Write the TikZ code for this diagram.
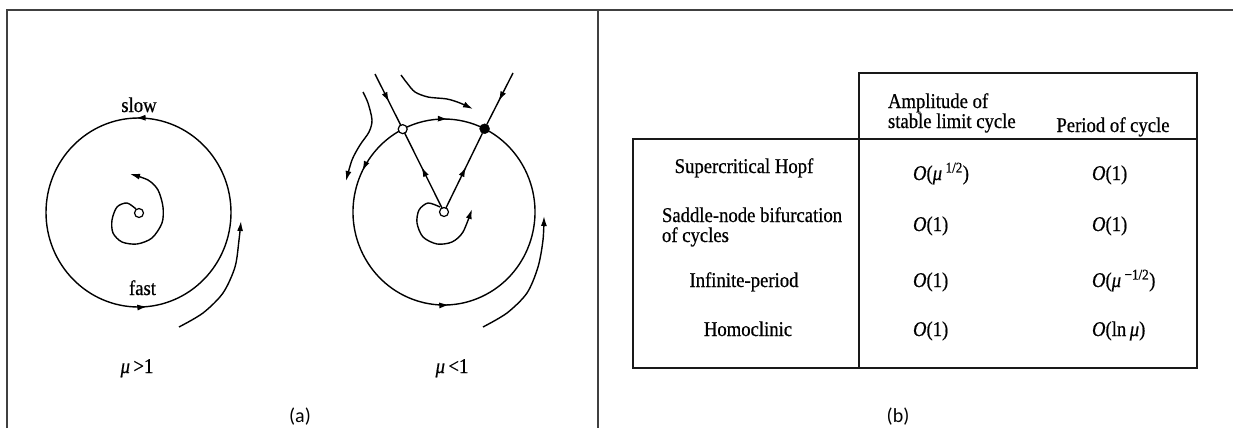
\documentclass[tikz,border=0pt]{standalone}
\usepackage{fontspec}
\setmainfont{Liberation Serif}
\newfontfamily\tf[FakeStretch=0.89,FakeBold=0.6]{Liberation Serif}
\newfontfamily\cf{Carlito}
\usetikzlibrary{arrows.meta,decorations.markings,calc}
\begin{document}
\begin{tikzpicture}[x=1pt,y=-1pt,
  every node/.style={inner sep=0pt, outer sep=0pt},
  tx/.style={font=\tf\fontsize{21}{20}\selectfont},
  curve/.style={line width=1.4pt, black},
  tip/.style={-{Latex[length=10pt,width=6pt]}},
  arrowat/.style={postaction={decorate,decoration={markings,mark=at position #1 with {\arrow{Latex[length=10pt,width=6pt]}}}}},
  frame/.style={line width=1.4pt, black!75},
  tbl/.style={line width=1.6pt, black!90},
  opendot/.style={circle,draw,line width=1.2pt,fill=white,minimum size=9pt},
  fulldot/.style={circle,draw,fill=black,minimum size=10pt},
]
\useasboundingbox (0,0) rectangle (1233,428);
\fill[white] (0,0) rectangle (1233,428);

% frame
\coordinate (f1) at (7,428); \coordinate (f2) at (7,10); \coordinate (f3) at (1233,10);
\draw[frame] (f1) -- (f2) -- (f3);
\coordinate (d1) at (598,10); \coordinate (d2) at (598,428);
\draw[frame] (d1) -- (d2);

% ---------- left panel (mu > 1)
\coordinate (L) at (138.5,212.5);
\draw[curve, arrowat=0.255, arrowat=0.765] ($(L)+(92.5,0)$) arc[start angle=0,end angle=-360,x radius=92.5,y radius=94.5];
\node[opendot] (Lc) at (139,213) {};
\draw[curve, tip] plot[smooth] coordinates {(136,209) (127,203) (117,207) (112,220) (113,233) (122,242) (137,244) (152,238) (162,223) (163,207) (158,190) (148,180) (130,174)};
\draw[curve, tip] plot[smooth] coordinates {(179,327) (203,313) (223,293) (235,267) (239,240) (241,221)};
\node[tx, anchor=base] (slow) at (139,112) {slow};
\node[tx, anchor=base] (fast) at (142.5,295) {fast};
\node[tx, anchor=base] (mu1) at (137,373) {\textit{μ}\,>1};

% ---------- right panel (mu < 1)
\coordinate (R) at (444,212);
\coordinate (S) at ($(R)+(-117:91 and 93)$);
\coordinate (N) at ($(R)+(-63.5:91 and 93)$);
\draw[curve, arrowat=0.55] (S) arc[start angle=-117,end angle=-63.5,x radius=91,y radius=93];
\draw[curve, arrowat=0.12, arrowat=0.51] (S) arc[start angle=-117,end angle=-423.5,x radius=91,y radius=93];
\node[opendot] (Sn) at (S) {};
\node[fulldot] (Nn) at (N) {};
\node[opendot] (Cn) at (R) {};
\coordinate (T1) at (375,74);
\coordinate (T2) at (513,73);
\draw[curve, arrowat=0.55] (T1) -- (Sn);
\draw[curve, arrowat=0.55] (T2) -- (Nn);
\draw[curve, arrowat=0.55] (Cn) -- (Sn);
\draw[curve, arrowat=0.55] (Cn) -- (Nn);
\draw[curve, tip] plot[smooth] coordinates {(401,75) (407,83) (415,92) (428,97) (447,99) (460,103) (473,109)};
\draw[curve, tip] plot[smooth] coordinates {(363,92) (368,103) (372,120) (369,132) (360,145) (352,160) (346,181)};
\draw[curve, tip] plot[smooth] coordinates {(440,207) (428,203) (419,210) (417,223) (423,237) (437,244) (452,242) (463,232) (472,209)};
\draw[curve, tip] plot[smooth] coordinates {(483,327) (507,313) (527,293) (538,267) (543,240) (544,216)};
\node[tx, anchor=base] (mu2) at (452,373) {\textit{μ}\,<1};

\node[font=\cf\fontsize{20}{24}\selectfont] (la) at (300,417) {(a)};
\node[font=\cf\fontsize{20}{24}\selectfont] (lb) at (898,417) {(b)};

% ---------- table (b)
\draw[tbl] (633,139) rectangle (1197,368);
\draw[tbl] (859,73) rectangle (1197,139);
\draw[tbl] (859,139) -- (859,368);

\node[tx, anchor=base west] (h1) at (888,108) {Amplitude of};
\node[tx, anchor=base west] (h2) at (888,128) {stable limit cycle};
\node[tx, anchor=base] (h3) at (1113,132) {Period of cycle};

\node[tx, anchor=base] (r1) at (744,173) {Supercritical Hopf};
\node[tx, anchor=base west] (r2a) at (662,222) {Saddle-node bifurcation};
\node[tx, anchor=base west] (r2b) at (662,242) {of cycles};
\node[tx, anchor=base] (r3) at (744,287) {Infinite-period};
\node[tx, anchor=base] (r4) at (748,336) {Homoclinic};

\node[tx, anchor=base west] (v11) at (913,180) {\textit{O}(\textit{μ}\,\textsuperscript{1/2})};
\node[tx, anchor=base west] (v12) at (1092,180) {\textit{O}(1)};
\node[tx, anchor=base west] (v21) at (913,231) {\textit{O}(1)};
\node[tx, anchor=base west] (v22) at (1092,231) {\textit{O}(1)};
\node[tx, anchor=base west] (v31) at (913,287) {\textit{O}(1)};
\node[tx, anchor=base west] (v32) at (1092,287) {\textit{O}(\textit{μ}\,\textsuperscript{−1/2})};
\node[tx, anchor=base west] (v41) at (913,336) {\textit{O}(1)};
\node[tx, anchor=base west] (v42) at (1092,336) {\textit{O}(ln\,\textit{μ})};
\end{tikzpicture}
\end{document}
